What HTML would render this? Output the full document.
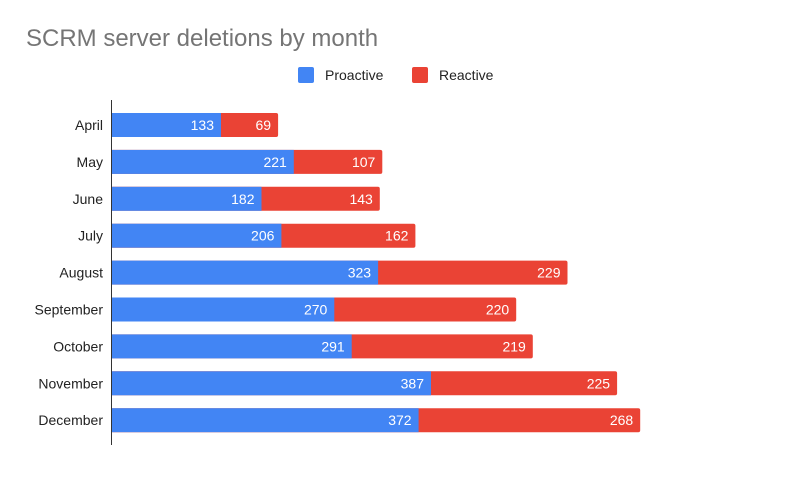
<!DOCTYPE html>
<html><head><style>body{margin:0;background:#fff}svg{display:block}text{font-family:"Liberation Sans",Arial,sans-serif}</style></head><body>
<svg width="800" height="494" xmlns="http://www.w3.org/2000/svg">
<text x="26" y="46" font-size="24" fill="#757575">SCRM server deletions by month</text>
<rect x="298" y="67" width="16" height="16" rx="2" fill="#4285f4"/>
<text x="325" y="80" font-size="14" fill="#222">Proactive</text>
<rect x="412" y="67" width="16" height="16" rx="2" fill="#ea4335"/>
<text x="439" y="80" font-size="14" fill="#222">Reactive</text>
<g font-size="14" fill="#222" text-anchor="end">
<text x="103" y="130">April</text>
<text x="103" y="166.9">May</text>
<text x="103" y="203.8">June</text>
<text x="103" y="240.7">July</text>
<text x="103" y="277.6">August</text>
<text x="103" y="314.5">September</text>
<text x="103" y="351.4">October</text>
<text x="103" y="388.3">November</text>
<text x="103" y="425.2">December</text>
</g>
<g fill="#ea4335">
<rect x="111" y="113" width="167.1" height="24" rx="2"/>
<rect x="111" y="149.9" width="271.3" height="24" rx="2"/>
<rect x="111" y="186.8" width="268.8" height="24" rx="2"/>
<rect x="111" y="223.7" width="304.4" height="24" rx="2"/>
<rect x="111" y="260.6" width="456.5" height="24" rx="2"/>
<rect x="111" y="297.5" width="405.2" height="24" rx="2"/>
<rect x="111" y="334.4" width="421.8" height="24" rx="2"/>
<rect x="111" y="371.3" width="506.1" height="24" rx="2"/>
<rect x="111" y="408.2" width="529.2" height="24" rx="2"/>
</g>
<g fill="#4285f4">
<rect x="111" y="113" width="110" height="24"/>
<rect x="111" y="149.9" width="182.8" height="24"/>
<rect x="111" y="186.8" width="150.5" height="24"/>
<rect x="111" y="223.7" width="170.4" height="24"/>
<rect x="111" y="260.6" width="267.1" height="24"/>
<rect x="111" y="297.5" width="223.3" height="24"/>
<rect x="111" y="334.4" width="240.7" height="24"/>
<rect x="111" y="371.3" width="320" height="24"/>
<rect x="111" y="408.2" width="307.6" height="24"/>
</g>
<g font-size="14" fill="#fff" text-anchor="end">
<text x="214" y="130">133</text><text x="271.1" y="130">69</text>
<text x="286.8" y="166.9">221</text><text x="375.3" y="166.9">107</text>
<text x="254.5" y="203.8">182</text><text x="372.8" y="203.8">143</text>
<text x="274.4" y="240.7">206</text><text x="408.4" y="240.7">162</text>
<text x="371.1" y="277.6">323</text><text x="560.5" y="277.6">229</text>
<text x="327.3" y="314.5">270</text><text x="509.2" y="314.5">220</text>
<text x="344.7" y="351.4">291</text><text x="525.8" y="351.4">219</text>
<text x="424" y="388.3">387</text><text x="610.1" y="388.3">225</text>
<text x="411.6" y="425.2">372</text><text x="633.2" y="425.2">268</text>
</g>
<line x1="111.5" y1="100" x2="111.5" y2="445" stroke="#333" stroke-width="1"/>
</svg>
</body></html>
